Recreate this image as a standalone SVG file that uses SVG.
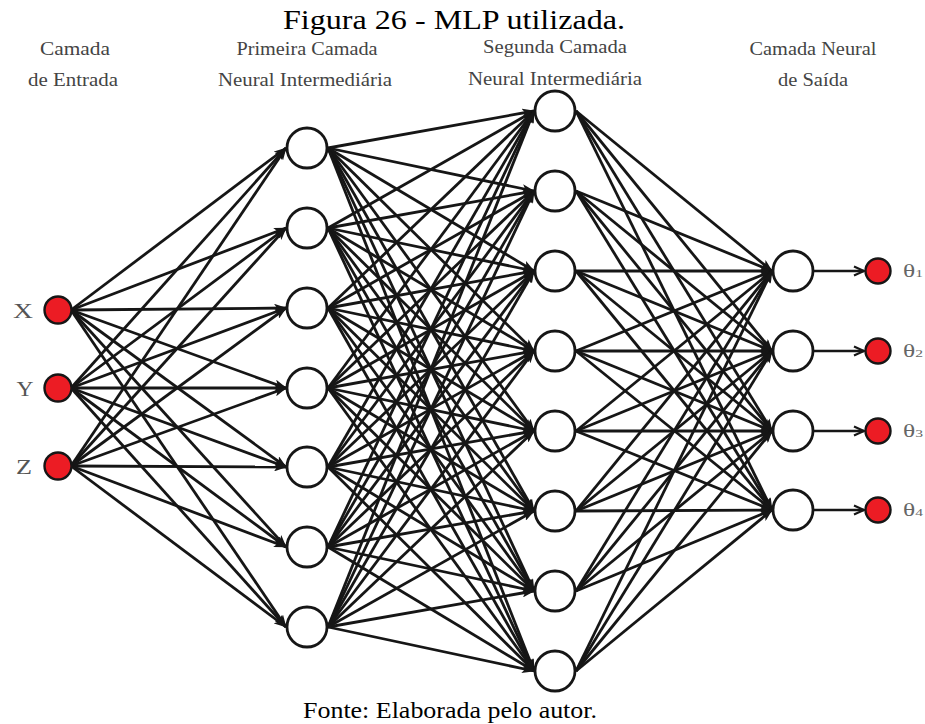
<svg xmlns="http://www.w3.org/2000/svg" width="925" height="724" viewBox="0 0 925 724">
  <style>
    .cap { font-family: "Times New Roman", "Liberation Serif", Tinos, serif; fill: #000; }
    .lbl { font-family: "Times New Roman", "Liberation Serif", Tinos, serif; font-size: 18px; fill: #444; text-anchor: middle; }
    .var { font-family: "Times New Roman", "Liberation Serif", Tinos, serif; font-size: 22px; fill: #555; text-anchor: middle; }
    .th { font-family: "Times New Roman", "Liberation Serif", Tinos, serif; font-size: 18px; fill: #666; }
    .e line { stroke: #161616; stroke-width: 2.8; marker-end: url(#head); }
    .o line { stroke: #161616; stroke-width: 2.4; marker-end: url(#vhead); }
    .n { fill: #fff; stroke: #161616; stroke-width: 2.8; }
    .r { fill: #ec1c24; stroke: #161616; stroke-width: 2.4; }
  </style>
  <defs>
    <marker id="head" markerUnits="userSpaceOnUse" markerWidth="13" markerHeight="9" viewBox="0 0 13 9" refX="12" refY="4.5" orient="auto">
      <path d="M0,0 L13,4.5 L0,9 L3,4.5 z" fill="#161616"/>
    </marker>
    <marker id="vhead" markerUnits="userSpaceOnUse" markerWidth="14" markerHeight="12" viewBox="0 0 14 12" refX="12" refY="6" orient="auto">
      <path d="M2,1.5 L12,6 L2,10.5" fill="none" stroke="#161616" stroke-width="2.2"/>
    </marker>
  </defs>
  <rect width="925" height="724" fill="#fff"/>

  <!-- captions -->
  <text class="cap" x="283" y="29" font-size="27" textLength="342" lengthAdjust="spacingAndGlyphs">Figura 26 - MLP utilizada.</text>
  <text class="cap" x="303" y="718" font-size="24" textLength="294" lengthAdjust="spacingAndGlyphs">Fonte: Elaborada pelo autor.</text>

  <!-- layer headings -->
  <g id="headings">
    <text class="lbl" x="75" y="55" textLength="70" lengthAdjust="spacingAndGlyphs">Camada</text>
    <text class="lbl" x="73" y="86" textLength="90" lengthAdjust="spacingAndGlyphs">de Entrada</text>
    <text class="lbl" x="307" y="55" textLength="141" lengthAdjust="spacingAndGlyphs">Primeira Camada</text>
    <text class="lbl" x="305" y="86" textLength="174" lengthAdjust="spacingAndGlyphs">Neural Intermediária</text>
    <text class="lbl" x="555" y="53" textLength="144" lengthAdjust="spacingAndGlyphs">Segunda Camada</text>
    <text class="lbl" x="555" y="85" textLength="174" lengthAdjust="spacingAndGlyphs">Neural Intermediária</text>
    <text class="lbl" x="813" y="55" textLength="127" lengthAdjust="spacingAndGlyphs">Camada Neural</text>
    <text class="lbl" x="813" y="86" textLength="70" lengthAdjust="spacingAndGlyphs">de Saída</text>
  </g>

  <!-- connectors -->
  <g id="connectors">
    <g class="e">
      <!-- input -> first hidden layer -->
      <line x1="71" y1="310" x2="286" y2="148"/>
      <line x1="71" y1="310" x2="286" y2="228"/>
      <line x1="71" y1="310" x2="286" y2="308"/>
      <line x1="71" y1="310" x2="286" y2="388"/>
      <line x1="71" y1="310" x2="286" y2="467"/>
      <line x1="71" y1="310" x2="286" y2="547"/>
      <line x1="71" y1="310" x2="286" y2="627"/>
      <line x1="71" y1="388" x2="286" y2="148"/>
      <line x1="71" y1="388" x2="286" y2="228"/>
      <line x1="71" y1="388" x2="286" y2="308"/>
      <line x1="71" y1="388" x2="286" y2="388"/>
      <line x1="71" y1="388" x2="286" y2="467"/>
      <line x1="71" y1="388" x2="286" y2="547"/>
      <line x1="71" y1="388" x2="286" y2="627"/>
      <line x1="71" y1="466" x2="286" y2="148"/>
      <line x1="71" y1="466" x2="286" y2="228"/>
      <line x1="71" y1="466" x2="286" y2="308"/>
      <line x1="71" y1="466" x2="286" y2="388"/>
      <line x1="71" y1="466" x2="286" y2="467"/>
      <line x1="71" y1="466" x2="286" y2="547"/>
      <line x1="71" y1="466" x2="286" y2="627"/>
      <!-- first hidden -> second hidden -->
      <line x1="328" y1="148" x2="534" y2="111"/>
      <line x1="328" y1="148" x2="534" y2="191"/>
      <line x1="328" y1="148" x2="534" y2="271"/>
      <line x1="328" y1="148" x2="534" y2="351"/>
      <line x1="328" y1="148" x2="534" y2="431"/>
      <line x1="328" y1="148" x2="534" y2="511"/>
      <line x1="328" y1="148" x2="534" y2="591"/>
      <line x1="328" y1="148" x2="534" y2="671"/>
      <line x1="328" y1="228" x2="534" y2="111"/>
      <line x1="328" y1="228" x2="534" y2="191"/>
      <line x1="328" y1="228" x2="534" y2="271"/>
      <line x1="328" y1="228" x2="534" y2="351"/>
      <line x1="328" y1="228" x2="534" y2="431"/>
      <line x1="328" y1="228" x2="534" y2="511"/>
      <line x1="328" y1="228" x2="534" y2="591"/>
      <line x1="328" y1="228" x2="534" y2="671"/>
      <line x1="328" y1="308" x2="534" y2="111"/>
      <line x1="328" y1="308" x2="534" y2="191"/>
      <line x1="328" y1="308" x2="534" y2="271"/>
      <line x1="328" y1="308" x2="534" y2="351"/>
      <line x1="328" y1="308" x2="534" y2="431"/>
      <line x1="328" y1="308" x2="534" y2="511"/>
      <line x1="328" y1="308" x2="534" y2="591"/>
      <line x1="328" y1="308" x2="534" y2="671"/>
      <line x1="328" y1="388" x2="534" y2="111"/>
      <line x1="328" y1="388" x2="534" y2="191"/>
      <line x1="328" y1="388" x2="534" y2="271"/>
      <line x1="328" y1="388" x2="534" y2="351"/>
      <line x1="328" y1="388" x2="534" y2="431"/>
      <line x1="328" y1="388" x2="534" y2="511"/>
      <line x1="328" y1="388" x2="534" y2="591"/>
      <line x1="328" y1="388" x2="534" y2="671"/>
      <line x1="328" y1="467" x2="534" y2="111"/>
      <line x1="328" y1="467" x2="534" y2="191"/>
      <line x1="328" y1="467" x2="534" y2="271"/>
      <line x1="328" y1="467" x2="534" y2="351"/>
      <line x1="328" y1="467" x2="534" y2="431"/>
      <line x1="328" y1="467" x2="534" y2="511"/>
      <line x1="328" y1="467" x2="534" y2="591"/>
      <line x1="328" y1="467" x2="534" y2="671"/>
      <line x1="328" y1="547" x2="534" y2="111"/>
      <line x1="328" y1="547" x2="534" y2="191"/>
      <line x1="328" y1="547" x2="534" y2="271"/>
      <line x1="328" y1="547" x2="534" y2="351"/>
      <line x1="328" y1="547" x2="534" y2="431"/>
      <line x1="328" y1="547" x2="534" y2="511"/>
      <line x1="328" y1="547" x2="534" y2="591"/>
      <line x1="328" y1="547" x2="534" y2="671"/>
      <line x1="328" y1="627" x2="534" y2="111"/>
      <line x1="328" y1="627" x2="534" y2="191"/>
      <line x1="328" y1="627" x2="534" y2="271"/>
      <line x1="328" y1="627" x2="534" y2="351"/>
      <line x1="328" y1="627" x2="534" y2="431"/>
      <line x1="328" y1="627" x2="534" y2="511"/>
      <line x1="328" y1="627" x2="534" y2="591"/>
      <line x1="328" y1="627" x2="534" y2="671"/>
      <!-- second hidden -> output layer -->
      <line x1="576" y1="111" x2="772" y2="271"/>
      <line x1="576" y1="111" x2="772" y2="351"/>
      <line x1="576" y1="111" x2="772" y2="431"/>
      <line x1="576" y1="111" x2="772" y2="510"/>
      <line x1="576" y1="191" x2="772" y2="271"/>
      <line x1="576" y1="191" x2="772" y2="351"/>
      <line x1="576" y1="191" x2="772" y2="431"/>
      <line x1="576" y1="191" x2="772" y2="510"/>
      <line x1="576" y1="271" x2="772" y2="271"/>
      <line x1="576" y1="271" x2="772" y2="351"/>
      <line x1="576" y1="271" x2="772" y2="431"/>
      <line x1="576" y1="271" x2="772" y2="510"/>
      <line x1="576" y1="351" x2="772" y2="271"/>
      <line x1="576" y1="351" x2="772" y2="351"/>
      <line x1="576" y1="351" x2="772" y2="431"/>
      <line x1="576" y1="351" x2="772" y2="510"/>
      <line x1="576" y1="431" x2="772" y2="271"/>
      <line x1="576" y1="431" x2="772" y2="351"/>
      <line x1="576" y1="431" x2="772" y2="431"/>
      <line x1="576" y1="431" x2="772" y2="510"/>
      <line x1="576" y1="511" x2="772" y2="271"/>
      <line x1="576" y1="511" x2="772" y2="351"/>
      <line x1="576" y1="511" x2="772" y2="431"/>
      <line x1="576" y1="511" x2="772" y2="510"/>
      <line x1="576" y1="591" x2="772" y2="271"/>
      <line x1="576" y1="591" x2="772" y2="351"/>
      <line x1="576" y1="591" x2="772" y2="431"/>
      <line x1="576" y1="591" x2="772" y2="510"/>
      <line x1="576" y1="671" x2="772" y2="271"/>
      <line x1="576" y1="671" x2="772" y2="351"/>
      <line x1="576" y1="671" x2="772" y2="431"/>
      <line x1="576" y1="671" x2="772" y2="510"/>
    </g>
    <g class="o">
      <!-- output layer -> outputs -->
      <line x1="814" y1="271" x2="864" y2="271"/>
      <line x1="814" y1="351" x2="864" y2="351"/>
      <line x1="814" y1="431" x2="864" y2="431"/>
      <line x1="814" y1="510" x2="864" y2="510"/>
    </g>
  </g>

  <!-- input layer -->
  <g id="in-x"><circle class="r" cx="58" cy="310" r="13.5"/><text class="var" x="23" y="318" textLength="20" lengthAdjust="spacingAndGlyphs">X</text></g>
  <g id="in-y"><circle class="r" cx="58" cy="388" r="13.5"/><text class="var" x="25" y="396" textLength="17" lengthAdjust="spacingAndGlyphs">Y</text></g>
  <g id="in-z"><circle class="r" cx="58" cy="466" r="13.5"/><text class="var" x="24" y="474" textLength="16" lengthAdjust="spacingAndGlyphs">Z</text></g>

  <!-- first hidden layer -->
  <g id="h1-1"><circle class="n" cx="307" cy="148" r="20"/></g>
  <g id="h1-2"><circle class="n" cx="307" cy="228" r="20"/></g>
  <g id="h1-3"><circle class="n" cx="307" cy="308" r="20"/></g>
  <g id="h1-4"><circle class="n" cx="307" cy="388" r="20"/></g>
  <g id="h1-5"><circle class="n" cx="307" cy="467" r="20"/></g>
  <g id="h1-6"><circle class="n" cx="307" cy="547" r="20"/></g>
  <g id="h1-7"><circle class="n" cx="307" cy="627" r="20"/></g>

  <!-- second hidden layer -->
  <g id="h2-1"><circle class="n" cx="555" cy="111" r="20"/></g>
  <g id="h2-2"><circle class="n" cx="555" cy="191" r="20"/></g>
  <g id="h2-3"><circle class="n" cx="555" cy="271" r="20"/></g>
  <g id="h2-4"><circle class="n" cx="555" cy="351" r="20"/></g>
  <g id="h2-5"><circle class="n" cx="555" cy="431" r="20"/></g>
  <g id="h2-6"><circle class="n" cx="555" cy="511" r="20"/></g>
  <g id="h2-7"><circle class="n" cx="555" cy="591" r="20"/></g>
  <g id="h2-8"><circle class="n" cx="555" cy="671" r="20"/></g>

  <!-- output layer -->
  <g id="out-1"><circle class="n" cx="793" cy="271" r="20"/></g>
  <g id="out-2"><circle class="n" cx="793" cy="351" r="20"/></g>
  <g id="out-3"><circle class="n" cx="793" cy="431" r="20"/></g>
  <g id="out-4"><circle class="n" cx="793" cy="510" r="20"/></g>

  <!-- outputs -->
  <g id="theta-1"><circle class="r" cx="878" cy="271" r="12.5"/><text class="th" x="903" y="277" textLength="20" lengthAdjust="spacingAndGlyphs">θ<tspan font-size="11">1</tspan></text></g>
  <g id="theta-2"><circle class="r" cx="878" cy="351" r="12.5"/><text class="th" x="903" y="357" textLength="20" lengthAdjust="spacingAndGlyphs">θ<tspan font-size="11">2</tspan></text></g>
  <g id="theta-3"><circle class="r" cx="878" cy="431" r="12.5"/><text class="th" x="903" y="437" textLength="20" lengthAdjust="spacingAndGlyphs">θ<tspan font-size="11">3</tspan></text></g>
  <g id="theta-4"><circle class="r" cx="878" cy="510" r="12.5"/><text class="th" x="903" y="516" textLength="20" lengthAdjust="spacingAndGlyphs">θ<tspan font-size="11">4</tspan></text></g>
</svg>
